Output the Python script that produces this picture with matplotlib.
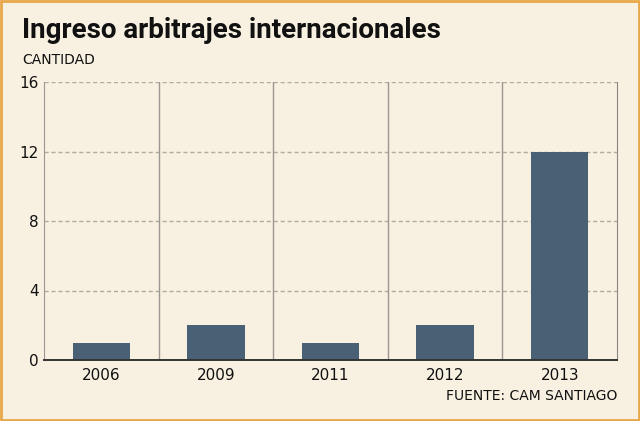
import numpy as np
import matplotlib.pyplot as plt
from matplotlib.patches import Rectangle

years = ["2006", "2009", "2011", "2012", "2013"]
cantidad = [1, 2, 1, 2, 12]
yticks = [0, 4, 8, 12, 16]

bg = "#f8f0e0"
barcol = "#4a6074"

fig = plt.figure(figsize=(6.4, 4.21), dpi=100, facecolor=bg)
ax = fig.add_axes([44/640, 1 - 360/421, (617-44)/640, (360-82)/421])
ax.set_facecolor(bg)

x = np.arange(len(years))
ax.bar(x, cantidad, width=0.5, color=barcol, zorder=3)
ax.set_xlim(-0.5, len(years) - 0.5)
ax.set_ylim(0, 16)
ax.set_yticks(yticks)
ax.set_xticks(x)
ax.set_xticklabels(years)
ax.tick_params(length=0, labelsize=11, colors="#111111")
ax.tick_params(axis="y", pad=4)
ax.tick_params(axis="x", pad=6)

# dashed horizontal grid
for v in yticks[1:]:
    ax.axhline(v, color="#b0aca4", lw=1, ls=(0, (3, 2)), zorder=1)
# vertical separators
for b in np.arange(0.5, len(years) - 1, 1):
    ax.axvline(b, color="#9a9890", lw=1, zorder=2)

ax.spines["top"].set_visible(False)
ax.spines["left"].set_color("#9a9890")
ax.spines["right"].set_color("#8a8880")
ax.spines["bottom"].set_color("#333333")
ax.spines["bottom"].set_linewidth(1.4)
ax.spines["bottom"].set_zorder(4)

fig.text(22/640, 1 - 31/421, "Ingreso arbitrajes internacionales", fontsize=20,
         fontweight="bold", va="center", ha="left", color="#111111",
         family=["Roboto", "DejaVu Sans"])
fig.text(22/640, 1 - 60/421, "CANTIDAD", fontsize=10, va="center", ha="left", color="#111111")
fig.text(617/640, 1 - 396/421, "FUENTE: CAM SANTIAGO", fontsize=10, va="center", ha="right",
         color="#111111")

fig.patches.append(Rectangle((0.002, 0.003), 0.996, 0.994, transform=fig.transFigure,
                             fill=False, ec="#e8a84a", lw=2))

fig.savefig("out.png", dpi=100, facecolor=bg)
